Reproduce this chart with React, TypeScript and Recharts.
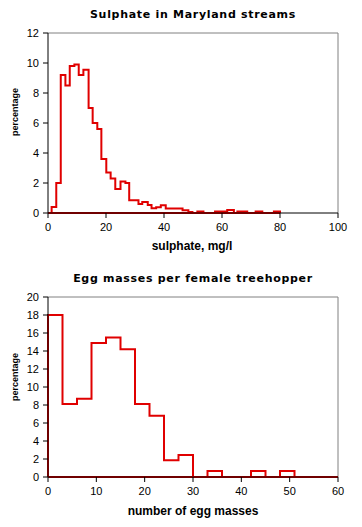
import { LineChart, Line, XAxis, YAxis, ReferenceLine } from 'recharts';

const RED = '#e00000';
const GREY = '#808080';

// sulphate histogram: left edge of each step (mg/l) and percentage from that edge on
const sulphateEdges = [
  0, 1.25, 2.85, 4.4, 6.0, 7.5, 9.1, 10.6, 12.2, 14.0,
  15.4, 17.0, 18.4, 20.1, 21.6, 23.2, 25.0, 26.7, 28.0, 31.2,
  32.5, 34.4, 35.7, 37.3, 38.9, 40.6, 46.4, 48.4, 49.8, 51.5,
  53.6, 57.6, 61.8, 64.1, 65.3, 68.7, 71.6, 73.9, 77.9, 80,
];
const sulphatePct = [
  0, 0.4, 2.0, 9.2, 8.5, 9.8, 9.9, 9.2, 9.55, 7.0,
  6.0, 5.6, 3.6, 2.7, 2.3, 1.6, 2.1, 2.0, 0.85, 0.6,
  0.73, 0.53, 0.31, 0.38, 0.51, 0.3, 0.18, 0.07, 0, 0.1,
  0, 0.1, 0.2, 0, 0.1, 0, 0.1, 0, 0.1, 0,
];
const sulphateXTicks = [0, 20, 40, 60, 80, 100];
const sulphateYTicks = [0, 2, 4, 6, 8, 10, 12];

// egg masses per female: bins of 3
const eggEdges = [0, 0, 3, 6, 9, 12, 15, 18, 21, 24, 27, 30, 33, 36, 39, 42, 45, 48, 51, 60];
const eggPct = [0, 18.0, 8.1, 8.7, 14.9, 15.5, 14.2, 8.1, 6.8, 1.85, 2.45, 0, 0.67, 0, 0, 0.67, 0, 0.67, 0, 0];
const eggXTicks = [0, 10, 20, 30, 40, 50, 60];
const eggYTicks = [0, 2, 4, 6, 8, 10, 12, 14, 16, 18, 20];

const tickStyle = { fill: '#000', fontSize: 11, fontFamily: '"Liberation Sans", Arial, sans-serif' };
const titleStyle: React.CSSProperties = {
  position: 'absolute',
  transform: 'translate(-50%, -50%)',
  whiteSpace: 'nowrap',
  fontFamily: '"DejaVu Sans", Verdana, sans-serif',
  fontWeight: 'bold',
  fontSize: 11,
  letterSpacing: 0.7,
  color: '#000',
};
const labelStyle: React.CSSProperties = {
  position: 'absolute',
  transform: 'translate(-50%, -50%)',
  whiteSpace: 'nowrap',
  fontFamily: '"Liberation Sans", Arial, sans-serif',
  fontWeight: 'bold',
  fontSize: 12,
  color: '#000',
};
const yLabelStyle: React.CSSProperties = {
  ...labelStyle,
  fontSize: 9,
  transform: 'translate(-50%, -50%) rotate(-90deg)',
};

interface Hist {
  edges: number[];
  pct: number[];
  xMax: number;
  yMax: number;
  xTicks: number[];
  yTicks: number[];
  redEnd: number;
}

const HistChart = ({ edges, pct, xMax, yMax, xTicks, yTicks, redEnd }: Hist) => {
  const data = edges.map((x, i) => ({ x, pct: pct[i] }));
  return (
    <LineChart width={362} height={260} data={data} margin={{ top: 33, right: 24, bottom: 17, left: 0 }}>
      <XAxis
        type="number"
        dataKey="x"
        domain={[0, xMax]}
        ticks={xTicks}
        interval={0}
        height={30}
        tickSize={5}
        tickMargin={5}
        stroke="#000"
        tick={tickStyle}
      />
      <YAxis
        type="number"
        domain={[0, yMax]}
        ticks={yTicks}
        interval={0}
        width={48}
        tickSize={5}
        tickMargin={4}
        stroke="#000"
        tick={tickStyle}
      />
      <ReferenceLine y={yMax} stroke={GREY} strokeWidth={1} />
      <ReferenceLine x={xMax} stroke={GREY} strokeWidth={1} />
      <ReferenceLine segment={[{ x: 0, y: 0 }, { x: redEnd, y: 0 }]} stroke={RED} strokeWidth={2} />
      <Line
        type="stepAfter"
        dataKey="pct"
        stroke={RED}
        strokeWidth={2}
        dot={false}
        activeDot={false}
        isAnimationActive={false}
      />
    </LineChart>
  );
};

export default function App() {
  return (
    <div style={{ position: 'absolute', left: 0, top: 0, width: 362, height: 527, background: '#fff' }}>
      <div style={{ position: 'absolute', left: 0, top: 0 }}>
        <HistChart
          edges={sulphateEdges}
          pct={sulphatePct}
          xMax={100}
          yMax={12}
          xTicks={sulphateXTicks}
          yTicks={sulphateYTicks}
          redEnd={80}
        />
      </div>
      <div style={{ ...titleStyle, left: 193, top: 14 }}>Sulphate in Maryland streams</div>
      <div style={{ ...labelStyle, left: 192, top: 246 }}>sulphate, mg/l</div>
      <div style={{ ...yLabelStyle, left: 15, top: 112 }}>percentage</div>

      <div style={{ position: 'absolute', left: 0, top: 264 }}>
        <HistChart
          edges={eggEdges}
          pct={eggPct}
          xMax={60}
          yMax={20}
          xTicks={eggXTicks}
          yTicks={eggYTicks}
          redEnd={60}
        />
      </div>
      <div style={{ ...titleStyle, left: 193, top: 278 }}>Egg masses per female treehopper</div>
      <div style={{ ...labelStyle, left: 193, top: 511 }}>number of egg masses</div>
      <div style={{ ...yLabelStyle, left: 15, top: 377 }}>percentage</div>
    </div>
  );
}
